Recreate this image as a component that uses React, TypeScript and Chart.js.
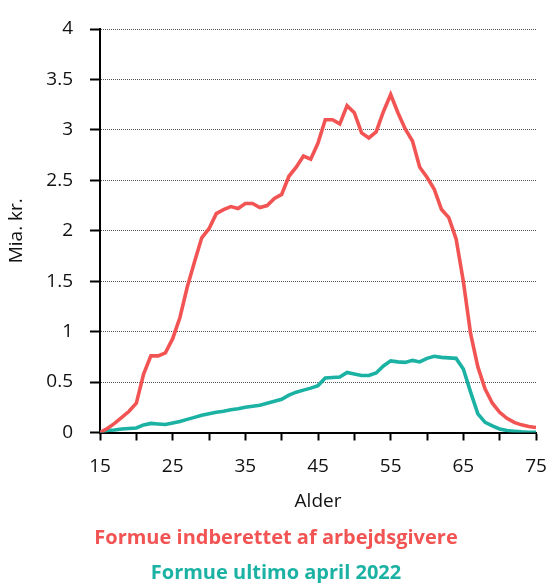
import React, { useEffect, useRef } from "react";
import { Chart, registerables } from "chart.js";

Chart.register(...registerables);

const ages: number[] = [
  15, 16, 17, 18, 19, 20, 21, 22, 23, 24, 25, 26, 27, 28, 29, 30, 31, 32, 33, 34,
  35, 36, 37, 38, 39, 40, 41, 42, 43, 44, 45, 46, 47, 48, 49, 50, 51, 52, 53, 54,
  55, 56, 57, 58, 59, 60, 61, 62, 63, 64, 65, 66, 67, 68, 69, 70, 71, 72, 73, 74, 75,
];

const reportedByEmployers: number[] = [
  0.0, 0.04, 0.09, 0.15, 0.21, 0.29, 0.58, 0.76, 0.76, 0.79, 0.93, 1.14, 1.44, 1.69, 1.93, 2.02,
  2.17, 2.21, 2.24, 2.22, 2.27, 2.27, 2.23, 2.25, 2.32, 2.36, 2.54, 2.63, 2.74, 2.71, 2.87, 3.1,
  3.1, 3.06, 3.24, 3.17, 2.97, 2.92, 2.98, 3.18, 3.35, 3.17, 3.01, 2.89, 2.63, 2.53, 2.41, 2.21,
  2.13, 1.92, 1.5, 0.98, 0.65, 0.43, 0.29, 0.2, 0.14, 0.1, 0.076, 0.06, 0.05,
];

const endOfApril2022: number[] = [
  0.0, 0.02, 0.025, 0.035, 0.04, 0.045, 0.075, 0.09, 0.085, 0.08, 0.095, 0.11, 0.13, 0.15, 0.17,
  0.185, 0.2, 0.21, 0.225, 0.235, 0.25, 0.26, 0.27, 0.29, 0.31, 0.33, 0.37, 0.4, 0.42, 0.44,
  0.465, 0.54, 0.545, 0.55, 0.595, 0.58, 0.565, 0.565, 0.59, 0.66, 0.71, 0.7, 0.695, 0.715, 0.7,
  0.735, 0.755, 0.745, 0.74, 0.735, 0.63, 0.4, 0.185, 0.1, 0.065, 0.035, 0.02, 0.013, 0.007,
  0.003, 0.003,
];

const seriesNames: string[] = ["Formue indberettet af arbejdsgivere", "Formue ultimo april 2022"];
const seriesColors: string[] = ["#f25454", "#1bb2a4"];
const xLabelledTicks: number[] = [15, 25, 35, 45, 55, 65, 75];
const yTickLabels: string[] = ["0", "0.5", "1", "1.5", "2", "2.5", "3", "3.5", "4"];
const xTitle = "Alder";
const yTitle = "Mia. kr.";

const FONT = "'Open Sans', sans-serif";

export default function App() {
  const canvasRef = useRef<HTMLCanvasElement | null>(null);

  useEffect(() => {
    const canvas = canvasRef.current;
    if (!canvas) return;
    const series = [reportedByEmployers, endOfApril2022];
    const chart = new Chart(canvas, {
      type: "line",
      data: {
        datasets: series.map((vals, i) => ({
          label: seriesNames[i],
          data: ages.map((a, j) => ({ x: a, y: vals[j] })),
          borderColor: seriesColors[i],
          backgroundColor: seriesColors[i],
          borderWidth: 3.6,
          pointRadius: 0,
          tension: 0,
          fill: false,
        })),
      },
      options: {
        responsive: false,
        animation: false,
        devicePixelRatio: 1,
        layout: { padding: { left: 0, right: 0, top: 29, bottom: 0 } },
        plugins: {
          tooltip: { enabled: false },
          legend: {
            display: true,
            position: "bottom",
            align: "center",
            labels: {
              font: { family: FONT, size: 20, weight: "bold" },
              padding: 15,
              boxWidth: -6,
              boxHeight: 0,
              generateLabels: () =>
                seriesNames.map((name, i) => ({
                  text: name,
                  fontColor: seriesColors[i],
                  fillStyle: "rgba(0,0,0,0)",
                  strokeStyle: "rgba(0,0,0,0)",
                  lineWidth: 0,
                  hidden: false,
                  datasetIndex: i,
                })),
            },
          },
        },
        scales: {
          x: {
            type: "linear",
            min: 15,
            max: 75,
            afterFit: (scale: any) => {
              scale.height = 80.5;
              scale.paddingRight = 12;
              scale.paddingLeft = 0;
            },
            border: { display: true, color: "#000", width: 2 },
            grid: {
              drawOnChartArea: false,
              drawTicks: true,
              tickLength: 8,
              tickColor: "#000",
              tickWidth: 2,
            },
            ticks: {
              stepSize: 5,
              autoSkip: false,
              maxRotation: 0,
              padding: 15,
              color: "#111",
              font: { family: FONT, size: 19 },
              callback: (v: any) => (xLabelledTicks.includes(Number(v)) ? String(v) : ""),
            },
            title: {
              display: true,
              text: xTitle,
              color: "#111",
              font: { family: FONT, size: 19 },
              padding: { top: 0, bottom: 0 },
            },
          },
          y: {
            min: 0,
            max: 4,
            afterFit: (scale: any) => {
              scale.width = 100;
            },
            border: { display: true, color: "#000", width: 2, dash: [1, 1] },
            grid: {
              color: "#555",
              lineWidth: 1,
              drawTicks: true,
              tickLength: 10,
              tickColor: "#000",
              tickWidth: 2,
              tickBorderDash: [],
            },
            ticks: {
              stepSize: 0.5,
              padding: 17,
              color: "#111",
              font: { family: FONT, size: 19 },
              callback: (v: any, idx: number) => yTickLabels[idx] ?? String(v),
            },
            title: {
              display: true,
              text: yTitle,
              color: "#111",
              font: { family: FONT, size: 19 },
              padding: { top: 5, bottom: 0 },
            },
          },
        },
      },
    });
    return () => chart.destroy();
  }, []);

  return (
    <div
      style={{
        position: "absolute",
        left: 0,
        top: 0,
        width: 548,
        height: 583,
        overflow: "hidden",
        background: "#fff",
      }}
    >
      <canvas ref={canvasRef} width={548} height={593} style={{ display: "block" }} />
    </div>
  );
}
